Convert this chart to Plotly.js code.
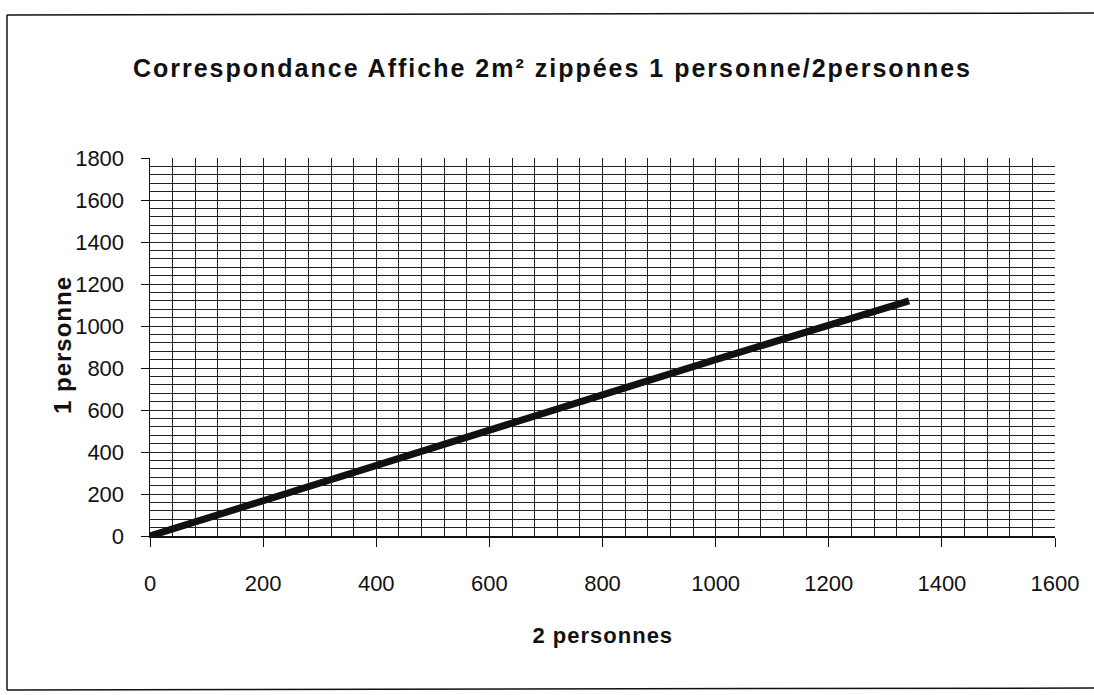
<!DOCTYPE html>
<html>
<head>
<meta charset="utf-8">
<script src="https://cdn.plot.ly/plotly-3.0.1.min.js"></script>
<style>
  html, body { margin: 0; padding: 0; background: #fff; }
  #chart { width: 1094px; height: 695px; }
  #chart .gtitle { letter-spacing: 2px; }
  #chart .annotation-text { letter-spacing: 1px; }
</style>
</head>
<body>
<div id="chart"></div>
<script>
// values: 2 personnes -> 1 personne
const deuxPersonnes = [0, 200, 400, 600, 800, 1000, 1200, 1342];
const unePersonne = [0, 166, 334, 505, 672, 840, 1008, 1120];

const xTicks = [0, 200, 400, 600, 800, 1000, 1200, 1400, 1600];
const yTicks = [0, 200, 400, 600, 800, 1000, 1200, 1400, 1600, 1800];

const W = 1094, H = 695;
const margin = { l: 150, r: 39, t: 158, b: 159, pad: 0 };

// convert page pixels to paper coords (frame and axis titles)
const plotW = W - margin.l - margin.r;
const plotH = H - margin.t - margin.b;
const px = x => (x - margin.l) / plotW;
const py = y => (H - margin.b - y) / plotH;

const frame = { type: 'line', xref: 'paper', yref: 'paper', line: { color: '#111', width: 1.5 } };
const font = 'Liberation Sans, Arial, sans-serif';

const trace = {
  x: deuxPersonnes,
  y: unePersonne,
  mode: 'lines',
  type: 'scatter',
  line: { color: '#111', width: 7 },
  hoverinfo: 'x+y'
};

const tickFont = { family: font, size: 22, color: '#111' };

const layout = {
  width: W,
  height: H,
  margin: margin,
  paper_bgcolor: '#fff',
  plot_bgcolor: '#fff',
  showlegend: false,
  title: {
    text: 'Correspondance Affiche 2m² zippées 1 personne/2personnes',
    font: { family: font, size: 25, color: '#111', weight: 'bold' },
    x: 0.505,
    xanchor: 'center',
    y: 1 - 68 / H,
    yanchor: 'middle'
  },
  xaxis: {
    range: [0, 1600],
    tickvals: xTicks,
    ticks: 'outside',
    ticklen: 9,
    tickcolor: '#111',
    ticklabelstandoff: 18,
    tickfont: tickFont,
    showline: true,
    linecolor: '#111',
    linewidth: 1.5,
    showgrid: true,
    gridcolor: '#222',
    gridwidth: 1,
    minor: { dtick: 40, showgrid: true, gridcolor: '#222', gridwidth: 1, ticks: '' },
    zeroline: false,
    fixedrange: true
  },
  yaxis: {
    range: [0, 1800],
    tickvals: yTicks,
    ticks: 'outside',
    ticklen: 8,
    tickcolor: '#111',
    ticklabelstandoff: 12,
    tickfont: tickFont,
    showline: true,
    linecolor: '#111',
    linewidth: 1.5,
    showgrid: true,
    gridcolor: '#222',
    gridwidth: 1,
    minor: { dtick: 40, showgrid: true, gridcolor: '#222', gridwidth: 1, ticks: '' },
    zeroline: false,
    fixedrange: true
  },
  annotations: [
    {
      text: '2 personnes', xref: 'paper', yref: 'paper',
      x: 0.5, y: py(635), xanchor: 'center', yanchor: 'middle', showarrow: false,
      font: { family: font, size: 22, color: '#111', weight: 'bold' }
    },
    {
      text: '1 personne', xref: 'paper', yref: 'paper', textangle: -90,
      x: px(62), y: py(345), xanchor: 'center', yanchor: 'middle', showarrow: false,
      font: { family: font, size: 24, color: '#111', weight: 'bold' }
    }
  ],
  shapes: [
    Object.assign({ x0: px(7), x1: px(7), y0: py(15), y1: py(690) }, frame),
    Object.assign({ x0: px(7), x1: px(W), y0: py(15), y1: py(13) }, frame),
    Object.assign({ x0: px(7), x1: px(W), y0: py(690), y1: py(688) }, frame)
  ]
};

Plotly.newPlot('chart', [trace], layout, { displayModeBar: false, staticPlot: true });
</script>
</body>
</html>
